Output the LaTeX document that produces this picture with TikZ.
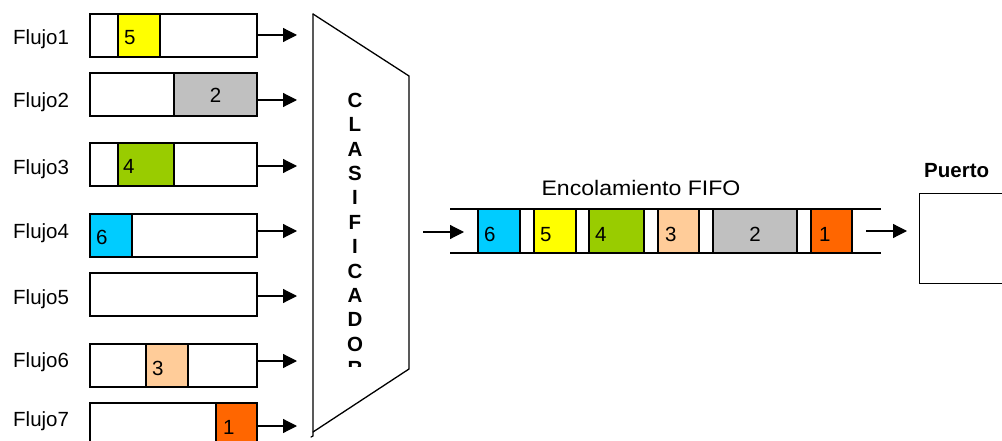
\documentclass[tikz,border=0pt]{standalone}
\usepackage{fontspec}
\setmainfont{Liberation Sans}
\usetikzlibrary{arrows.meta,calc}

\definecolor{pktyellow}{HTML}{FFFF00}
\definecolor{pktgray}{HTML}{C0C0C0}
\definecolor{pktgreen}{HTML}{99CC00}
\definecolor{pktcyan}{HTML}{00CCFF}
\definecolor{pktpeach}{HTML}{FFCC99}
\definecolor{pktorange}{HTML}{FF6600}

\tikzset{
  every picture/.style={x=1pt,y=-1pt},
  flowbox/.style={draw,line width=1.3pt,fill=white,anchor=north west,
    minimum width=167pt,minimum height=43pt,inner sep=0pt,outer sep=0pt},
  cell/.style={draw,line width=1.3pt,anchor=north west,minimum height=43pt,
    inner sep=0pt,outer sep=0pt},
  qcell/.style={cell,minimum height=44pt},
  digit/.style={anchor=base west,inner sep=0pt,font=\fontsize{20.5}{24}\selectfont},
  cdigit/.style={anchor=base,inner sep=0pt,font=\fontsize{20.5}{24}\selectfont},
  flowlabel/.style={anchor=base west,inner sep=0pt,font=\fontsize{20.5}{24}\selectfont},
  clsletter/.style={anchor=base,inner sep=0pt,font=\fontsize{20.5}{24}\selectfont\bfseries},
  flowarrow/.style={line width=1.2pt,-{Triangle[length=14pt,width=14pt]}},
  edge/.style={line width=1.3pt,line cap=round}
}

\begin{document}
\begin{tikzpicture}
\useasboundingbox (0,0) rectangle (1002,441);
\clip (0,0) rectangle (1002,441);

% input flows: box, queued packet and arrow towards the classifier
\foreach \i/\y in {1/14,2/73,3/143,4/214,5/273,6/344,7/403}{
  \node[flowbox] (f\i) at (90,\y) {};
}
\node[cell,fill=pktyellow,minimum width=42pt] (c1) at (118,14) {};
\node[digit] at ([xshift=6pt,yshift=12pt]c1.south west) {5};
\node[cell,fill=pktgray,minimum width=83pt] (c2) at (174,73) {};
\node[cdigit] at ([yshift=13pt]c2.south) {2};
\node[cell,fill=pktgreen,minimum width=56pt] (c3) at (118,143) {};
\node[digit] at ([xshift=5pt,yshift=12pt]c3.south west) {4};
\node[cell,fill=pktcyan,minimum width=42pt] (c4) at (90,214) {};
\node[digit] at ([xshift=6pt,yshift=13pt]c4.south west) {6};
\node[cell,fill=pktpeach,minimum width=42pt] (c6) at (146,344) {};
\node[digit] at ([xshift=6pt,yshift=12pt]c6.south west) {3};
\node[cell,fill=pktorange,minimum width=41pt] (c7) at (216,403) {};
\node[digit] at ([xshift=7pt,yshift=12pt]c7.south west) {1};

\foreach \i/\y/\t in {1/35/37,2/100/100,3/166/167,4/231/231,5/296/297,6/361/360,7/426/419}{
  \node[flowlabel] (l\i) at (13,\t+7.5) {Flujo\i};
  \coordinate (t\i) at (297,\y);
  \draw[flowarrow] (f\i.east |- t\i) -- (t\i);
}

% classifier trapezoid
\coordinate (k1) at (313,14);
\coordinate (k2) at (409,76);
\coordinate (k3) at (409,369);
\coordinate (k4) at (313,432);
\coordinate (k5) at (313,436);
\draw[edge] (k1) -- (k2) -- (k3) -- (k4);
\draw[edge] (k1) -- (k5) -- ++(-2,1);

\begin{scope}
  \clip (330,80) rectangle (390,366);
  \foreach \l [count=\i] in {C,L,A,S,I,F,I,C,A,D,O,R}{
    \node[clsletter] (cl\i) at (355,{107.3+24.4*(\i-1)}) {\l};
  }
\end{scope}

% FIFO queue
\coordinate (qa) at (450,209);
\coordinate (qb) at (881,209);
\coordinate (qc) at (450,253);
\coordinate (qd) at (881,253);
\draw[line width=1.3pt] (qa) -- (qb) (qc) -- (qd);
\node[qcell,fill=pktcyan,minimum width=42pt] (q6) at (478,209) {};
\node[digit] at ([xshift=6pt,yshift=12pt]q6.south west) {6};
\node[qcell,fill=pktyellow,minimum width=42pt] (q5) at (534,209) {};
\node[digit] at ([xshift=6pt,yshift=12pt]q5.south west) {5};
\node[qcell,fill=pktgreen,minimum width=55pt] (q4) at (589,209) {};
\node[digit] at ([xshift=6pt,yshift=12pt]q4.south west) {4};
\node[qcell,fill=pktpeach,minimum width=41pt] (q3) at (658,209) {};
\node[digit] at ([xshift=7pt,yshift=12pt]q3.south west) {3};
\node[qcell,fill=pktgray,minimum width=84pt] (q2) at (713,209) {};
\node[cdigit] at ([yshift=12pt]q2.south) {2};
\node[qcell,fill=pktorange,minimum width=41pt] (q1) at (811,209) {};
\node[digit] at ([xshift=8pt,yshift=12pt]q1.south west) {1};

\node[anchor=base,inner sep=0pt,font=\fontsize{21}{24}\selectfont] (fifo) at (641,196)
  {\scalebox{1.1}[1]{Encolamiento FIFO}};

\coordinate (in0) at (423,232);
\coordinate (in1) at (464,232);
\draw[flowarrow] (in0) -- (in1);

% output port
\node[draw,line width=1.3pt,anchor=north west,minimum width=100pt,minimum height=90pt,
  inner sep=0pt] (port) at (919,193) {};
\node[anchor=base west,inner sep=0pt,font=\fontsize{20.5}{24}\selectfont\bfseries] (portlabel)
  at (924,178) {Puerto};
\coordinate (out0) at (866,231);
\coordinate (out1) at (907,231);
\draw[flowarrow] (out0) -- (out1);
\end{tikzpicture}
\end{document}
